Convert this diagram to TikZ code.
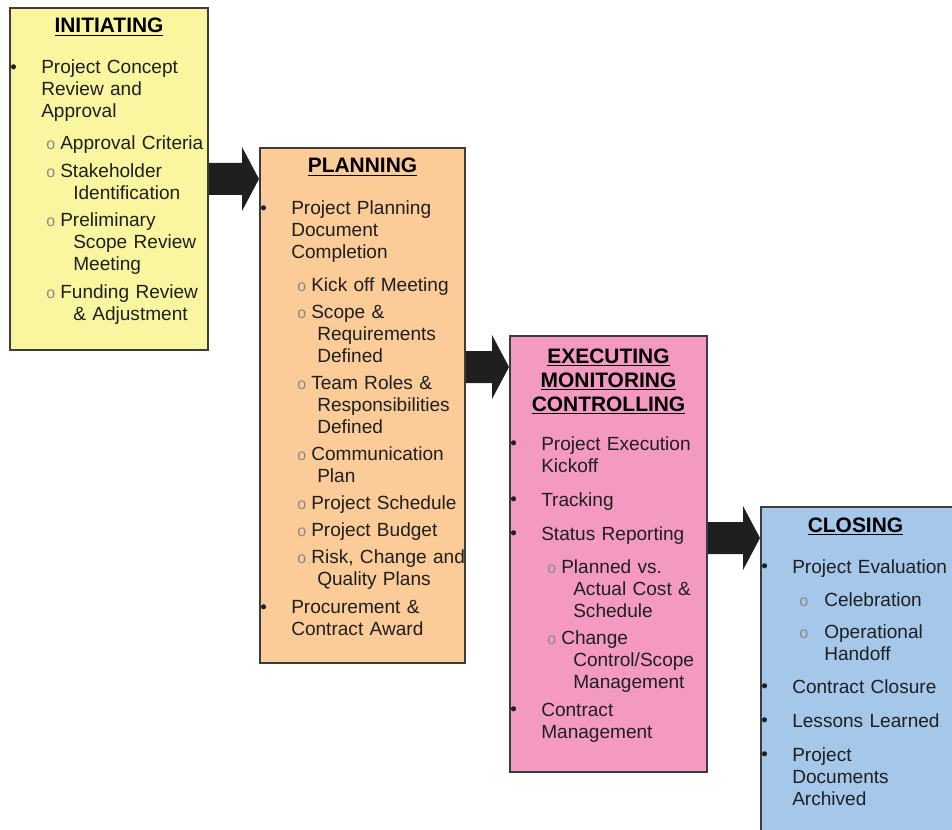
\documentclass[tikz,border=0pt]{standalone}
\usepackage{fontspec}
\setmainfont{Liberation Sans}
\usetikzlibrary{positioning, calc, fit}

\definecolor{initfill}{HTML}{FAF6A0}
\definecolor{planfill}{HTML}{FBCB98}
\definecolor{execfill}{HTML}{F49AC2}
\definecolor{closefill}{HTML}{A5C8EA}
\definecolor{edgegray}{HTML}{3C3C3C}
\definecolor{ringgray}{HTML}{8A8A8A}

% one reference pixel
\newlength\px \setlength\px{0.75pt}
\newlength\subdot \newlength\subtxt \newlength\subcont
\newcommand\subsetup[3]{\setlength\subdot{#1\px}\setlength\subtxt{#2\px}\setlength\subcont{#3\px}}
\newcommand\bulletdot{\raisebox{0.6pt}{\fontsize{14}{14}\selectfont\textbullet}}
\newcommand\subring{{\fontsize{12}{12}\selectfont\color{ringgray}o}}
\newcommand\mainpoint[2][9pt]{\par\ifdim#1>0pt\vspace{#1}\fi
  \noindent\hangindent=32\px\hangafter=1\makebox[32\px][l]{\hspace{1\px}\bulletdot}#2\par}
\newcommand\subpoint[2][3.75pt]{\par\ifdim#1>0pt\vspace{#1}\fi
  \noindent\hangindent=\subcont\hangafter=1\makebox[\subtxt][l]{\hspace{\subdot}\subring}#2\par}

\begin{document}
\begin{tikzpicture}
    [x=0.75pt, y=-0.75pt,
    phase/.style={
        draw=edgegray,
        line width=1.5pt,
        inner sep=0pt
    },
    heading/.style={
        anchor=base,
        align=center,
        text=black,
        font=\fontsize{15.7}{18}\selectfont\bfseries
    },
    body/.style={
        anchor=base west,
        inner sep=0pt,
        text width=200pt,
        align=left,
        text=black!88,
        font=\fontsize{14.3}{16.5}\selectfont
    },
    blockarrow/.style={fill=black!88}
    ]

    \useasboundingbox (0,0) rectangle (952,830);

    % Phase boxes
    \node[phase, fill=initfill, fit={(10,8) (208,350)}] (init) {};
    \node[phase, fill=planfill, fit={(260,148) (465,663)}] (plan) {};
    \node[phase, fill=execfill, fit={(510,336) (707,772)}] (exec) {};
    \node[phase, fill=closefill, fit={(761,507) (954,833)}] (close) {};

    % Headings
    \node[heading] (initT) at ($(init.north)+(0,26)$) {\underline{INITIATING}};
    \node[heading] (planT) at ($(plan.north)+(0,26)$) {\underline{PLANNING}};
    \node[heading, anchor=north] (execT) at ($(exec.north)+(0,9)$)
        {\underline{EXECUTING}\\\underline{MONITORING}\\\underline{CONTROLLING}};
    \node[heading] (closeT) at ($(close.north)+(-2,26)$) {\underline{CLOSING}};

    % Item lists
    \node[body] (initL) at ($(init.north west)+(0,45)$) {\subsetup{37}{51}{64}%
        \mainpoint[0pt]{Project Concept\newline Review and\newline Approval}
        \subpoint[7.5pt]{Approval Criteria}
        \subpoint[4.5pt]{Stakeholder\newline Identification}
        \subpoint[3.75pt]{Preliminary\newline Scope Review\newline Meeting}
        \subpoint[4.5pt]{Funding Review\newline \& Adjustment}};

    \node[body] (planL) at ($(plan.north west)+(0,46)$) {\subsetup{38}{52}{58}%
        \mainpoint[0pt]{Project Planning\newline Document\newline Completion}
        \subpoint[8.25pt]{Kick off Meeting}
        \subpoint{Scope \&\newline Requirements\newline Defined}
        \subpoint{Team Roles \&\newline Responsibilities\newline Defined}
        \subpoint{Communication\newline Plan}
        \subpoint{Project Schedule}
        \subpoint{Project Budget}
        \subpoint{Risk, Change and\newline Quality Plans}
        \mainpoint[4.5pt]{Procurement \&\newline Contract Award}};

    \node[body] (execL) at ($(exec.north west)+(0,93)$) {\subsetup{38}{52}{64}%
        \mainpoint[0pt]{Project Execution\newline Kickoff}
        \mainpoint{Tracking}
        \mainpoint{Status Reporting}
        \subpoint[8.25pt]{Planned vs.\newline Actual Cost \&\newline Schedule}
        \subpoint[4.2pt]{Change\newline Control/Scope\newline Management}
        \mainpoint[4.2pt]{Contract\newline Management}};

    \node[body] (closeL) at ($(close.north west)+(0,45)$) {\subsetup{39}{64}{64}%
        \mainpoint[0pt]{Project Evaluation}
        \subpoint[8.25pt]{Celebration}
        \subpoint[7.5pt]{Operational\newline Handoff}
        \mainpoint[8.25pt]{Contract Closure}
        \mainpoint{Lessons Learned}
        \mainpoint{Project\newline Documents\newline Archived}};

    % Block arrows between phases
    \foreach \src/\dst in {init/plan, plan/exec, exec/close}{
        \coordinate (tip) at ($(\dst.north west)+(0,32)$);
        \coordinate (up) at ($(tip)+(0,-16)$);
        \coordinate (dn) at ($(tip)+(0,16)$);
        \fill[blockarrow] (tip) -- ++(-17,-32) -- ++(0,16) -- (\src.east |- up)
            -- (\src.east |- dn) -- ($(dn)+(-17,0)$) -- ++(0,16) -- cycle;
    }
\end{tikzpicture}
\end{document}
